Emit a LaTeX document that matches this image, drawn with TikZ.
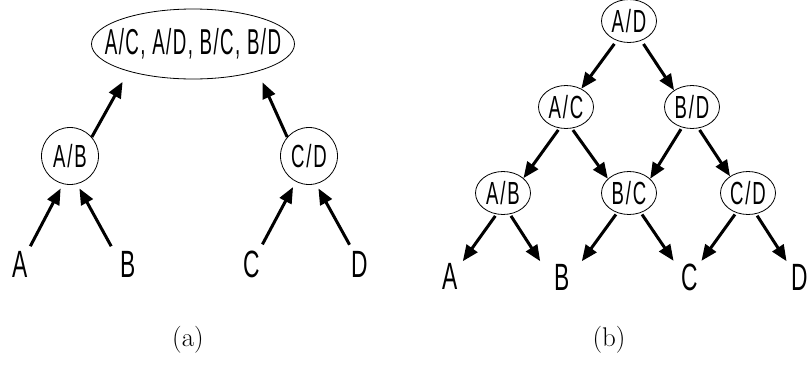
\documentclass[tikz,border=0pt]{standalone}
\usepackage{fontspec}
\newfontfamily\pairfont[FakeStretch=0.58,LetterSpace=6]{Liberation Sans}
\newfontfamily\listfont[FakeStretch=0.52,LetterSpace=4]{Liberation Sans}
\newfontfamily\leaffont[FakeStretch=0.6]{Liberation Sans}
\usetikzlibrary{shapes.geometric}
\usetikzlibrary{arrows.meta}

\begin{document}
\begin{tikzpicture}[x=1pt,y=-1pt,
  pair/.style={draw,line width=0.8pt,inner sep=0pt,font=\pairfont\fontsize{32}{32}\selectfont},
  round/.style={pair,circle,minimum size=57pt},
  oval/.style={pair,ellipse,minimum width=55pt,minimum height=43pt},
  listoval/.style={draw,line width=0.8pt,ellipse,inner sep=0pt,minimum width=203pt,minimum height=70pt,font=\listfont\fontsize{36}{36}\selectfont},
  leaf/.style={inner sep=0pt,font=\leaffont\fontsize{38}{38}\selectfont},
  arr/.style={line width=3pt,-{Triangle[length=16pt,width=13pt]}},
  caption/.style={font=\fontsize{27}{32}\selectfont}]
\useasboundingbox (0,0) rectangle (808,370);

% (a)
\node[listoval] (all) at (193,44) {\makebox[0pt]{A/C, A/D, B/C, B/D}};
\node[round] (ab) at (70,156) {A/B};
\node[round] (cd) at (309,156) {C/D};
\node[leaf] (a) at (20,264) {A};
\node[leaf] (b) at (128,264) {B};
\node[leaf] (c) at (252,264) {C};
\node[leaf] (d) at (360,264) {D};
\draw[arr,shorten >=5pt] ([xshift=2.5pt,yshift=4.5pt]a.north east) -- (ab.256);
\draw[arr,shorten >=5pt] ([xshift=-9pt,yshift=4.5pt]b.north west) -- (ab.284);
\draw[arr,shorten >=6pt] ([xshift=2pt,yshift=6pt]c.north east) -- (cd.243);
\draw[arr,shorten >=5pt] ([xshift=-2pt,yshift=6pt]d.north west) -- (cd.284);
\draw[arr,shorten >=12pt] (ab.41) -- (all.203);
\draw[arr,shorten >=12pt] (cd.139) -- (all.337);
\node[caption] (capa) at (188,340) {(a)};

% (b)
\node[oval] (tAD) at (629,21) {A/D};
\node[oval] (tAC) at (566,107) {A/C};
\node[oval] (tBD) at (692,107) {B/D};
\node[oval] (tAB) at (503,193) {A/B};
\node[oval] (tBC) at (629,193) {B/C};
\node[oval] (tCD) at (748,193) {C/D};
\node[leaf] (tA) at (450,276) {A};
\node[leaf] (tB) at (562,277) {B};
\node[leaf] (tC) at (690,277) {C};
\node[leaf] (tD) at (800,277) {D};
\begin{scope}[shorten <=4pt]
\draw[arr] (tAD.238) -- (tAC.50);
\draw[arr] (tAD.302) -- (tBD.137);
\end{scope}
\begin{scope}[shorten <=2pt]
\draw[arr] (tAC.253) -- (tAB.36);
\draw[arr] (tAC.285) -- (tBC.146);
\draw[arr] (tBD.244) -- (tBC.34);
\draw[arr] (tBD.287) -- (tCD.137);
\draw[arr] (tAB.253) -- ([xshift=5pt,yshift=1.5pt]tA.north east);
\draw[arr] (tAB.288) -- ([xshift=-14pt,yshift=2.5pt]tB.north west);
\draw[arr] (tBC.239) -- ([xshift=12pt,yshift=2.5pt]tB.north east);
\draw[arr] (tBC.301) -- ([xshift=-8pt,yshift=2.5pt]tC.north west);
\draw[arr] (tCD.239) -- ([xshift=3pt,yshift=2.5pt]tC.north east);
\draw[arr] (tCD.291) -- ([xshift=-5pt,yshift=2.5pt]tD.north west);
\end{scope}
\node[caption] (capb) at (609,340) {(b)};
\end{tikzpicture}
\end{document}
